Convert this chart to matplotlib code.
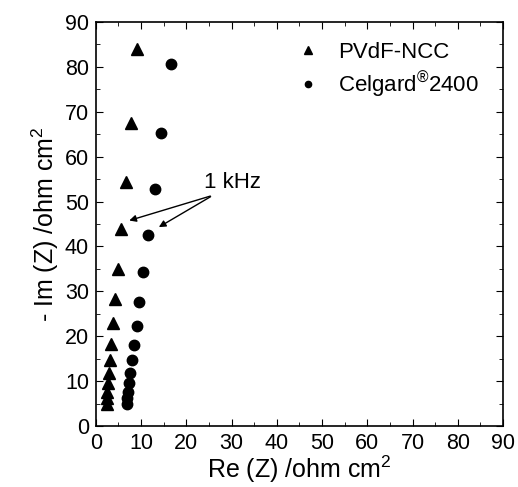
import matplotlib
matplotlib.use("Agg")
import matplotlib.pyplot as plt
from matplotlib.ticker import MultipleLocator

plt.rcParams['font.family'] = ['Liberation Sans', 'DejaVu Sans']
plt.rcParams['mathtext.default'] = 'regular'

# PVdF-NCC (triangles)
pvdf_re = [9.2, 7.7, 6.6, 5.5, 4.8, 4.3, 3.7, 3.3, 3.1, 2.9, 2.7, 2.5, 2.4, 2.4]
pvdf_im = [83.9, 67.4, 54.3, 43.8, 34.9, 28.2, 22.9, 18.3, 14.7, 11.9, 9.5, 7.6, 6.2, 4.9]

# Celgard 2400 (circles)
celg_re = [16.6, 14.5, 13.0, 11.6, 10.4, 9.6, 9.1, 8.4, 7.9, 7.5, 7.3, 7.2, 7.0, 6.8]
celg_im = [80.6, 65.2, 52.7, 42.5, 34.4, 27.7, 22.3, 18.0, 14.7, 11.9, 9.5, 7.6, 6.2, 4.9]

fig = plt.figure(figsize=(5.18, 4.87), dpi=100)
ax = fig.add_axes([0.185, 0.125, 0.786, 0.830])

ax.plot(pvdf_re, pvdf_im, ls='none', marker='^', ms=9, color='black', label='PVdF-NCC')
ax.plot(celg_re, celg_im, ls='none', marker='o', ms=7.5, color='black',
        label='Celgard$^{®}$2400')

# 1 kHz arrows
ax.annotate('', xy=(6.8, 45.6), xytext=(25.9, 51.4),
            arrowprops=dict(arrowstyle='-|>', color='black', lw=1, mutation_scale=10))
ax.annotate('', xy=(13.4, 44.0), xytext=(25.9, 51.4),
            arrowprops=dict(arrowstyle='-|>', color='black', lw=1, mutation_scale=10))
ax.text(30.3, 54.3, '1 kHz', ha='center', va='center', fontsize=16)

ax.set_xlim(0, 90)
ax.set_ylim(0, 90)
ax.xaxis.set_major_locator(MultipleLocator(10))
ax.xaxis.set_minor_locator(MultipleLocator(5))
ax.yaxis.set_major_locator(MultipleLocator(10))
ax.yaxis.set_minor_locator(MultipleLocator(5))
ax.tick_params(which='both', direction='in', top=True, right=True, labelsize=15.5, pad=5)
ax.tick_params(which='major', length=5)
ax.tick_params(which='minor', length=3)
for s in ax.spines.values():
    s.set_linewidth(1.2)

ax.set_xlabel('Re (Z) /ohm cm$^2$', fontsize=18, labelpad=0)
ax.set_ylabel('- Im (Z) /ohm cm$^2$', fontsize=18, labelpad=3)

ax.legend(loc='upper right', frameon=False, fontsize=16, markerscale=0.6,
          handletextpad=0.6, labelspacing=0.3, handlelength=1.5,
          bbox_to_anchor=(0.99, 1.0))

fig.savefig('out.png', dpi=100)
